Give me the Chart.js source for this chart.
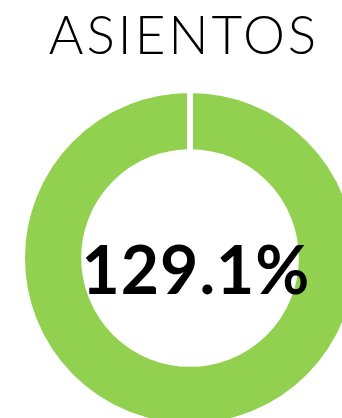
<!DOCTYPE html>
<html>
<head>
<meta charset="utf-8">
<script src="https://cdn.jsdelivr.net/npm/chart.js@4/dist/chart.umd.min.js"></script>
<style>
    html, body { margin: 0; padding: 0; background: #fff; }
    body { width: 342px; height: 418px; overflow: hidden; position: relative; }
    #titulo {
        position: absolute; left: 0; top: 2px; width: 368px;
        text-align: center; font-family: Lato, sans-serif; font-weight: 300;
        font-size: 53px; letter-spacing: 3px; color: #000;
    }
    #wrap { position: absolute; left: 19px; top: 86.5px; width: 342px; height: 342px; }
    #centro {
        position: absolute; left: 0; top: 225px; width: 392px;
        text-align: center; font-family: Lato, sans-serif; font-weight: 700;
        font-size: 66px; letter-spacing: 1px; color: #000; line-height: 88px;
    }
</style>
</head>
<body>
<div id="titulo">ASIENTOS</div>
<div id="wrap"><canvas id="asientosChart" width="342" height="342"></canvas></div>
<div id="centro"></div>

<script>
// Ocupación de asientos (porcentaje)
var etiquetas = ['Ocupación'];
var valores = [129.1];
var colores = ['#92D050'];

document.getElementById('centro').textContent = valores[0].toFixed(1) + '%';

var ctx = document.getElementById('asientosChart');
var asientosChart = new Chart(ctx, {
    type: 'doughnut',
    data: {
        labels: etiquetas,
        datasets: [{
            data: valores,
            backgroundColor: colores,
            borderColor: '#ffffff',
            borderWidth: 6
        }]
    },
    options: {
        responsive: false,
        animation: false,
        cutout: '63%',
        layout: { padding: 0 },
        plugins: {
            legend: { display: false },
            tooltip: { enabled: false }
        }
    }
});
</script>
</body>
</html>
